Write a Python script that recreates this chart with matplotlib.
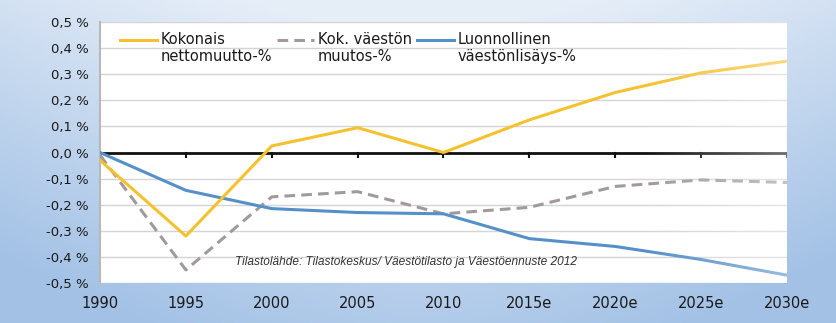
import numpy as np
import matplotlib.pyplot as plt
from matplotlib.lines import Line2D
from matplotlib.ticker import FuncFormatter

years = ['1990', '1995', '2000', '2005', '2010', '2015e', '2020e', '2025e', '2030e']
nettomuutto = [-0.03, -0.32, 0.025, 0.095, 0.0, 0.125, 0.23, 0.305, 0.35]
vaesto_muutos = [-0.01, -0.45, -0.17, -0.15, -0.235, -0.21, -0.13, -0.105, -0.115]
luonnollinen = [0.0, -0.145, -0.215, -0.23, -0.235, -0.33, -0.36, -0.41, -0.47]
labels = ['Kokonais\nnettomuutto-%', 'Kok. väestön\nmuutos-%', 'Luonnollinen\nväestönlisäys-%']

fig = plt.figure(figsize=(8.37, 3.23), dpi=100)

# background gradient (light at top centre, blue at sides / bottom)
bg = fig.add_axes([0, 0, 1, 1])
bg.set_axis_off()
xx, yy = np.meshgrid(np.linspace(0, 1, 200), np.linspace(0, 1, 100))
light = np.array([0.90, 0.93, 0.97])
blue = np.array([0.64, 0.76, 0.90])
w = np.clip(0.2 + 0.9 * yy - 1.1 * np.abs(xx - 0.5) ** 1.5, 0, 1)[..., None]
img = blue * (1 - w) + light * w
bg.imshow(img, extent=[0, 1, 0, 1], aspect='auto', origin='lower')
bg.set_xlim(0, 1)
bg.set_ylim(0, 1)

ax = fig.add_axes([100 / 837, 40 / 323, 687 / 837, 261 / 323])
ax.set_facecolor('white')
x = np.arange(len(years))

colors = ['#f5c12e', '#a29a9a', '#5590c8']
styles = ['-', (0, (3.5, 2)), '-']
ax.plot(x, nettomuutto, color=colors[0], lw=2.2, zorder=4)
ax.plot(x, vaesto_muutos, color=colors[1], lw=2.2, ls=styles[1], zorder=3)
ax.plot(x, luonnollinen, color=colors[2], lw=2.2, zorder=3)

# fade on the right side
fade = np.ones((1, 100, 4))
fade[..., 3] = np.clip((np.linspace(0, 1, 100) - 0.5) / 0.5, 0, 1) * 0.4
ax.imshow(fade, extent=[4.6, 8.05, -0.5, 0.5], aspect='auto', zorder=5)

ax.set_xlim(0, 8)
ax.set_ylim(-0.5, 0.5)
ax.set_yticks(np.arange(-0.5, 0.51, 0.1))
ax.yaxis.set_major_formatter(FuncFormatter(lambda v, p: ('%.1f %%' % v).replace('.', ',').replace('-0,0', '0,0')))
ax.yaxis.grid(True, color='#d4d4d4', lw=1)
ax.set_axisbelow(True)
ax.set_xticks(x)
ax.set_xticklabels(years)
ax.tick_params(axis='x', length=0, pad=9, labelsize=10.5, colors='#1a1a1a')
ax.tick_params(axis='y', length=0, pad=8, labelsize=9.5, colors='#1a1a1a')

for s in ['top', 'right', 'bottom']:
    ax.spines[s].set_visible(False)
ax.spines['left'].set_color('#b8b8b8')
ax.spines['left'].set_linewidth(1.5)

# zero axis with tick marks
ax.axhline(0, color='#111111', lw=2, zorder=2)
for xi in x:
    ax.plot([xi, xi], [-0.018, 0], color='#111111', lw=1.5, zorder=2)

# legend: handle on the first text line
leg_x = [20 / 687, 177 / 687, 317 / 687]
for lx, c, st, lab in zip(leg_x, colors, styles, labels):
    ax.add_line(Line2D([lx, lx + 37 / 687], [0.931, 0.931], transform=ax.transAxes,
                       color=c, lw=2.2, ls=st, zorder=6))
    ax.text(lx + 41 / 687, 0.962, lab, transform=ax.transAxes, fontsize=10.5,
            va='top', ha='left', color='#1a1a1a', linespacing=1.2, zorder=6)

ax.text(1.57, -0.43, 'Tilastolähde: Tilastokeskus/ Väestötilasto ja Väestöennuste 2012',
        fontsize=8.6, style='italic', family='Liberation Sans', color='#333333', zorder=6)

fig.savefig('out.png', dpi=100)
